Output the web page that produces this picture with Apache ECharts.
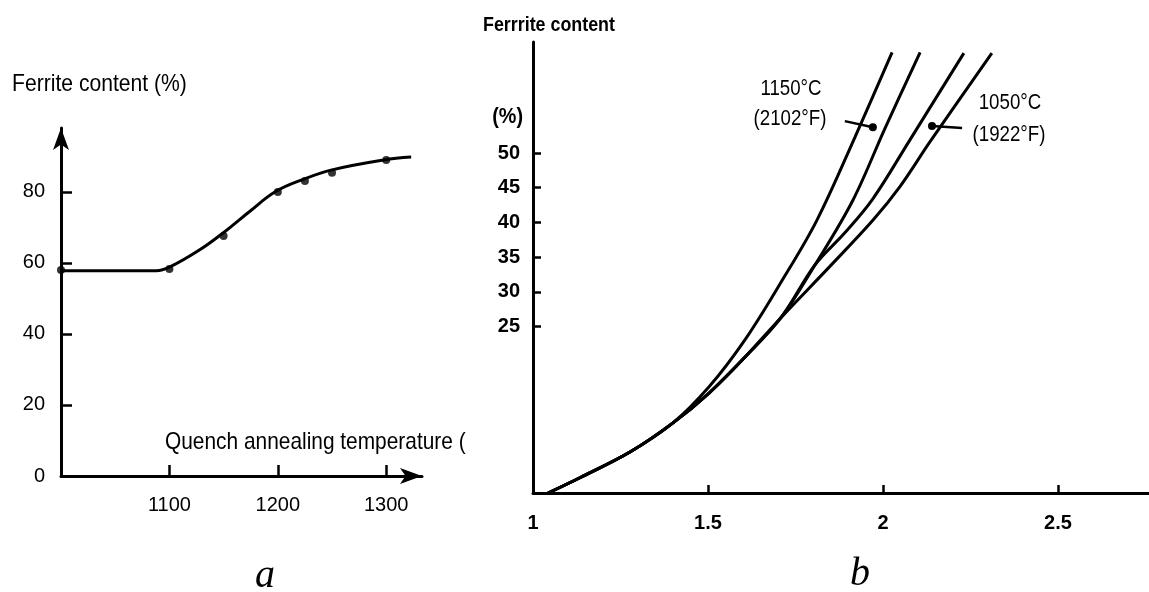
<!DOCTYPE html>
<html>
<head>
<meta charset="utf-8">
<script src="https://cdn.jsdelivr.net/npm/echarts@6/dist/echarts.min.js"></script>
<style>
  html, body { margin: 0; padding: 0; background: #ffffff; }
  #chart { width: 1149px; height: 592px; }
</style>
</head>
<body>
<div id="chart"></div>
<script>
// ---- Panel a: ferrite content vs quench annealing temperature ----
const annealTemps   = [1000, 1100, 1150, 1200, 1225, 1250, 1300];
const annealFerrite = [58.0, 58.3, 67.6, 80.0, 83.1, 85.4, 89.0];
const fitTemps   = [1001, 1088, 1100, 1128, 1151, 1174, 1198, 1224, 1250, 1298, 1323];
const fitFerrite = [57.8, 57.8, 58.8, 63.7, 68.8, 74.5, 80.1, 83.6, 86.2, 89.0, 89.8];
const tempTicks    = [1100, 1200, 1300];
const ferriteTicksA = [0, 20, 40, 60, 80];

// ---- Panel b: ferrite content curves ----
const curve1X = [1.043, 1.134, 1.277, 1.400, 1.503, 1.606, 1.709, 1.811, 1.920, 2.026];
const curve1Y = [1.0, 3.2, 6.9, 11.1, 16.3, 23.1, 31.4, 40.3, 52.3, 64.5];
const curve2X = [1.043, 1.134, 1.277, 1.400, 1.503, 1.606, 1.709, 1.806, 1.914, 2.006, 2.106];
const curve2Y = [1.0, 3.2, 6.9, 11.1, 15.4, 20.6, 26.3, 33.9, 43.2, 53.6, 64.5];
const curve3X = [1.043, 1.134, 1.277, 1.400, 1.503, 1.606, 1.709, 1.806, 1.891, 1.971, 2.077, 2.231];
const curve3Y = [1.0, 3.2, 6.9, 11.1, 15.4, 20.6, 26.3, 33.9, 38.5, 43.4, 51.9, 64.4];
const curve4X = [1.043, 1.134, 1.277, 1.400, 1.503, 1.606, 1.709, 1.849, 1.971, 2.049, 2.134, 2.311];
const curve4Y = [1.0, 3.2, 6.9, 11.1, 15.4, 20.6, 26.3, 33.7, 40.3, 45.2, 51.6, 64.4];
const pointer1150X = [1.891, 1.971];
const pointer1150Y = [54.6, 53.7];
const pointer1050X = [2.226, 2.140];
const pointer1050Y = [53.6, 53.9];
const ratioLabels  = [1, 1.5, 2, 2.5];
const ratioTicks   = [1.5, 2, 2.5];
const ferriteTicksB = [25, 30, 35, 40, 45, 50];

const FONT = "'Liberation Sans', Arial, sans-serif";
const SERIF = "'Liberation Serif', 'Times New Roman', serif";
const INK = '#000000';

const zip = (xs, ys) => xs.map((x, i) => [x, ys[i]]);
const plain = v => String(v);

function curveSeries(xs, ys) {
  return {
    type: 'line', xAxisIndex: 1, yAxisIndex: 1,
    data: zip(xs, ys), smooth: 0.35,
    symbol: 'none', lineStyle: { color: INK, width: 3 }, z: 3
  };
}

function pointerSeries(xs, ys) {
  const data = zip(xs, ys).map((p, i) => ({
    value: p,
    symbol: i === 1 ? 'circle' : 'none',
    symbolSize: 8
  }));
  return {
    type: 'line', xAxisIndex: 1, yAxisIndex: 1, data,
    lineStyle: { color: INK, width: 2.5 }, itemStyle: { color: INK }, z: 4
  };
}

// Condensed-looking caption text (horizontal squeeze of a regular face)
function text(x, y, str, size, opts) {
  opts = opts || {};
  return {
    type: 'text', x, y, z: 10,
    scaleX: opts.squeeze || 1,
    style: {
      text: str,
      fontFamily: opts.family || FONT,
      fontSize: size,
      fontWeight: opts.weight || 'normal',
      fontStyle: opts.style || 'normal',
      fill: INK,
      align: opts.align || 'left',
      verticalAlign: 'middle'
    }
  };
}

const chart = echarts.init(document.getElementById('chart'), null, { renderer: 'canvas' });

chart.setOption({
  animation: false,
  backgroundColor: '#ffffff',
  grid: [
    { left: 61, top: 128, width: 361, height: 348 },
    { left: 533, top: 42, width: 616, height: 451 }
  ],
  xAxis: [
    {
      gridIndex: 0, type: 'value', min: 1000, max: 1333,
      axisLine: { onZero: false, symbol: ['none', 'arrow'], symbolSize: [12, 22],
                  lineStyle: { color: INK, width: 3 } },
      axisTick: { inside: true, length: 11, customValues: tempTicks,
                  lineStyle: { color: INK, width: 2.5 } },
      axisLabel: { customValues: tempTicks, formatter: plain, margin: 19, fontSize: 20,
                   fontFamily: FONT, color: INK },
      splitLine: { show: false }
    },
    {
      gridIndex: 1, type: 'value', min: 1, max: 2.76,
      axisLine: { onZero: false, lineStyle: { color: INK, width: 3 } },
      axisTick: { inside: true, length: 8, customValues: ratioTicks,
                  lineStyle: { color: INK, width: 2.5 } },
      axisLabel: { customValues: ratioLabels, formatter: plain, margin: 20, fontSize: 20,
                   fontWeight: 'bold', fontFamily: FONT, color: INK },
      splitLine: { show: false }
    }
  ],
  yAxis: [
    {
      gridIndex: 0, type: 'value', min: 0, max: 98,
      axisLine: { onZero: false, symbol: ['none', 'arrow'], symbolSize: [12, 22],
                  lineStyle: { color: INK, width: 3 } },
      axisTick: { inside: true, length: 11, customValues: [20, 40, 60, 80],
                  lineStyle: { color: INK, width: 2.5 } },
      axisLabel: { customValues: ferriteTicksA, formatter: plain, margin: 16, fontSize: 20,
                   padding: [8, 0, 0, 0], fontFamily: FONT, color: INK },
      splitLine: { show: false }
    },
    {
      gridIndex: 1, type: 'value', min: 1, max: 66,
      axisLine: { onZero: false, lineStyle: { color: INK, width: 3 } },
      axisTick: { inside: true, length: 8, customValues: ferriteTicksB,
                  lineStyle: { color: INK, width: 2.5 } },
      axisLabel: { customValues: ferriteTicksB, formatter: plain, margin: 13, fontSize: 20,
                   fontWeight: 'bold', fontFamily: FONT, color: INK },
      splitLine: { show: false }
    }
  ],
  series: [
    {
      type: 'line', xAxisIndex: 0, yAxisIndex: 0,
      data: zip(fitTemps, fitFerrite), smooth: 0.4,
      symbol: 'none', lineStyle: { color: INK, width: 3 }, z: 3
    },
    {
      type: 'scatter', xAxisIndex: 0, yAxisIndex: 0,
      data: zip(annealTemps, annealFerrite), symbolSize: 8,
      itemStyle: { color: INK }, z: 4
    },
    curveSeries(curve1X, curve1Y),
    curveSeries(curve2X, curve2Y),
    curveSeries(curve3X, curve3Y),
    curveSeries(curve4X, curve4Y),
    pointerSeries(pointer1150X, pointer1150Y),
    pointerSeries(pointer1050X, pointer1050Y)
  ],
  graphic: [
    text(12, 84, 'Ferrite content (%)', 24, { squeeze: 0.88 }),
    text(165, 442, 'Quench annealing temperature (', 24, { squeeze: 0.87 }),
    text(483, 25, 'Ferrrite content', 21, { weight: 'bold', squeeze: 0.85 }),
    text(523, 117, '(%)', 22, { weight: 'bold', align: 'right', squeeze: 0.9 }),
    text(791, 89, '1150°C', 22, { align: 'center', squeeze: 0.85 }),
    text(790, 119, '(2102°F)', 22, { align: 'center', squeeze: 0.85 }),
    text(1010, 103, '1050°C', 22, { align: 'center', squeeze: 0.85 }),
    text(1009, 135, '(1922°F)', 22, { align: 'center', squeeze: 0.85 }),
    text(265, 576, 'a', 40, { family: SERIF, style: 'italic', align: 'center' }),
    text(860, 574, 'b', 40, { family: SERIF, style: 'italic', align: 'center' })
  ]
});
</script>
</body>
</html>
